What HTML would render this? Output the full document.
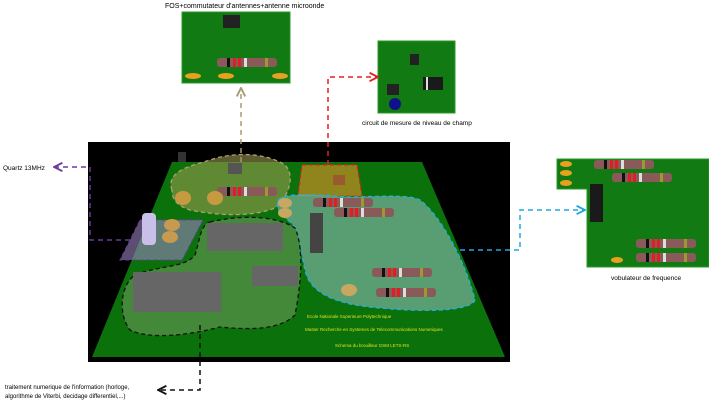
<!DOCTYPE html>
<html><head><meta charset="utf-8"><style>
html,body{margin:0;padding:0;background:#fff;width:709px;height:401px;overflow:hidden}
svg text{font-family:"Liberation Sans",sans-serif}
</style></head><body>
<svg width="709" height="401" viewBox="0 0 709 401" xmlns="http://www.w3.org/2000/svg">
<defs>
<marker id="a" viewBox="0 0 10 10" refX="9" refY="5" markerWidth="7" markerHeight="7" orient="auto-start-reverse"><path d="M1 1L9 5L1 9" fill="none" stroke="context-stroke" stroke-width="1.8"/></marker>
<g id="res"><rect x="0" y="0" width="60" height="9" rx="3" fill="#8a5a5a"/><rect x="10" y="0" width="3" height="9" fill="#111"/><rect x="16" y="0" width="3" height="9" fill="#e02020"/><rect x="21" y="0" width="3" height="9" fill="#e02020"/><rect x="27" y="0" width="3" height="9" fill="#ddd"/><rect x="48" y="0" width="3" height="9" fill="#9a9a30"/></g>
</defs>

<!-- top board -->
<rect x="182" y="12" width="108" height="71" fill="#127a12" stroke="#2a9a2a"/>
<rect x="223" y="15" width="17" height="13" fill="#222"/>
<use href="#res" x="217" y="58"/>
<ellipse cx="193" cy="76" rx="8" ry="3" fill="#e8a020"/><ellipse cx="226" cy="76" rx="8" ry="3" fill="#e8a020"/><ellipse cx="280" cy="76" rx="8" ry="3" fill="#e8a020"/>
<text x="165" y="8" font-size="7">FOS+commutateur d'antennes+antenne microonde</text>

<!-- field circuit -->
<rect x="378" y="41" width="77" height="72" fill="#127a12" stroke="#2a9a2a"/>
<rect x="410" y="54" width="9" height="11" fill="#222"/>
<rect x="423" y="77" width="20" height="13" fill="#1a1a1a"/><rect x="426" y="77" width="2" height="13" fill="#ddd"/>
<rect x="387" y="84" width="12" height="11" fill="#222"/>
<circle cx="395" cy="104" r="6" fill="#10108a"/>
<text x="362" y="125" font-size="6.5">circuit de mesure de niveau de champ</text>

<!-- vobulateur -->
<path d="M557 159H709V267H587V189H557Z" fill="#127a12" stroke="#2a9a2a"/>
<use href="#res" x="594" y="160" transform="translate(0,0)"/>
<use href="#res" x="612" y="173"/>
<rect x="590" y="184" width="13" height="38" fill="#1a1a1a"/>
<use href="#res" x="636" y="239"/>
<use href="#res" x="636" y="253"/>
<ellipse cx="566" cy="164" rx="6" ry="3" fill="#e8a020"/><ellipse cx="566" cy="173" rx="6" ry="3" fill="#e8a020"/><ellipse cx="566" cy="183" rx="6" ry="3" fill="#e8a020"/>
<ellipse cx="617" cy="260" rx="6" ry="3" fill="#e8a020"/>
<text x="611" y="280" font-size="6.5">vobulateur de frequence</text>

<!-- main render -->
<rect x="88" y="142" width="422" height="220" fill="#000"/>
<polygon points="172,162 422,162 505,357 92,357" fill="#0b720b"/>
<rect x="178" y="152" width="8" height="10" fill="#333"/>
<!-- tan region -->
<path d="M172,190 C165,170 195,165 210,160 C240,150 270,155 285,165 C295,175 290,195 275,208 C250,218 215,215 190,210 C175,205 172,198 172,190Z" fill="#9a9a50" fill-opacity="0.6" stroke="#b0a070" stroke-dasharray="4,3" stroke-width="1.3"/>
<rect x="228" y="163" width="14" height="11" fill="#555"/>
<use href="#res" x="217" y="187"/>
<ellipse cx="183" cy="198" rx="8" ry="7" fill="#c89a40"/><ellipse cx="215" cy="198" rx="8" ry="7" fill="#c89a40"/>
<!-- red region -->
<polygon points="302,165 357,165 362,196 298,196" fill="#b08a20" fill-opacity="0.8" stroke="#e02020" stroke-dasharray="4,3" stroke-width="1.3"/>
<rect x="333" y="175" width="12" height="10" fill="#9a5a30"/>
<!-- blue region -->
<path d="M278,200 C285,192 320,195 350,197 C390,196 410,195 420,200 C440,215 465,260 475,300 C470,312 420,312 380,308 C340,305 310,295 305,270 C300,250 300,230 290,222 C282,215 275,210 278,200Z" fill="#7ab0a0" fill-opacity="0.7" stroke="#20b0e0" stroke-dasharray="4,3" stroke-width="1.3"/>
<use href="#res" x="313" y="198"/><use href="#res" x="334" y="208"/>
<rect x="310" y="213" width="13" height="40" fill="#444"/>
<use href="#res" x="372" y="268"/><use href="#res" x="376" y="288"/>
<ellipse cx="285" cy="203" rx="7" ry="5" fill="#c8a860"/><ellipse cx="285" cy="213" rx="7" ry="5" fill="#c8a860"/><ellipse cx="349" cy="290" rx="8" ry="6" fill="#c8a860"/>
<!-- black region -->
<path d="M210,222 C240,215 275,215 295,228 C305,250 300,290 295,315 C280,330 250,330 220,327 C190,335 150,340 130,330 C118,315 120,285 135,275 C160,265 185,268 195,255 C200,240 200,225 210,222Z" fill="#6a9a5a" fill-opacity="0.6" stroke="#111" stroke-dasharray="4,3" stroke-width="1.3"/>
<rect x="207" y="223" width="76" height="28" fill="#666"/>
<rect x="133" y="272" width="88" height="40" fill="#666"/>
<rect x="252" y="266" width="46" height="20" fill="#666"/>
<!-- purple region -->
<polygon points="140,220 203,220 182,260 120,260" fill="#9a80c0" fill-opacity="0.6" stroke="#6a3aa0" stroke-dasharray="4,3" stroke-width="1"/>
<rect x="142" y="213" width="14" height="32" rx="4" fill="#c8c0e8"/>
<ellipse cx="172" cy="225" rx="8" ry="6" fill="#c89a50"/><ellipse cx="170" cy="237" rx="8" ry="6" fill="#c89a50"/>
<text x="307" y="318" font-size="4.5" fill="#e0e020">Ecole Nationale Superieure Polytechnique</text>
<text x="305" y="331" font-size="4.5" fill="#e0e020">Master Recherche en Systemes de Telecommunications Numeriques</text>
<text x="335" y="347" font-size="4.5" fill="#e0e020">Schema du brouilleur GSM LETS-RS</text>

<!-- connectors -->
<g fill="none" stroke-width="1.5" stroke-dasharray="5,4">
<path d="M241,162V88" stroke="#a89a70" marker-end="url(#a)"/>
<path d="M328,165V77H378" stroke="#e02020" marker-end="url(#a)"/>
<path d="M130,240H90V167H54" stroke="#6a3aa0" marker-end="url(#a)"/>
<path d="M460,250H520V210H585" stroke="#20a8e0" marker-end="url(#a)"/>
<path d="M200,325V390H158" stroke="#111" marker-end="url(#a)"/>
</g>
<text x="3" y="170" font-size="6.5">Quartz 13MHz</text>
<text x="5" y="389" font-size="6">traitement numerique de l'information (horloge,</text>
<text x="5" y="398" font-size="6">algorithme de Viterbi, decidage differentiel,...)</text>
</svg>
</body></html>
